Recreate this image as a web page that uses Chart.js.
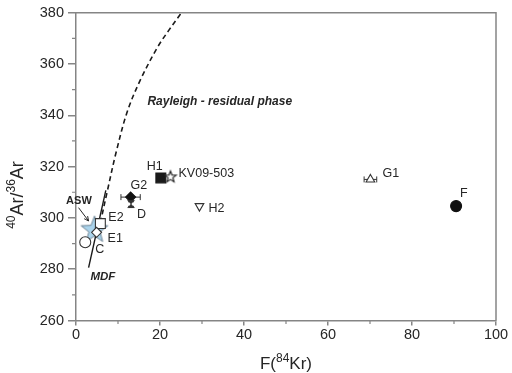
<!DOCTYPE html>
<html>
<head>
<meta charset="utf-8">
<script src="https://cdn.jsdelivr.net/npm/chart.js@4.4.0/dist/chart.umd.min.js"></script>
<style>
  html, body { margin: 0; padding: 0; background: #fff; }
  #wrap { width: 512px; height: 373px; position: relative; }
</style>
</head>
<body>
<div id="wrap"><canvas id="chart"></canvas></div>
<script>
// samples
const sampleNames = ["ASW", "E2", "E1", "C", "G2", "D", "H1", "KV09-503", "H2", "G1", "F"];
const fKr        = [4.4, 5.8, 4.9, 2.2, 13.0, 13.1, 20.2, 22.5, 29.4, 70.1, 90.5];
const arRatio    = [295.8, 297.8, 294.4, 290.5, 308.1, 305.4, 315.6, 316.2, 304.6, 315.0, 304.6];
const fKrErr     = [0, 0, 0, 0, 2.3, 0, 0, 0, 0, 1.5, 0.6];
const arRatioErr = [0, 0, 0, 0, 0, 0.9, 0, 0, 0, 0, 0];

// Rayleigh residual phase curve
const rayleighX = [5.8, 7.45, 9.6, 12.2, 15.3, 19.4, 22.0, 24.8, 25.8];
const rayleighY = [298.1, 310.4, 325.9, 341.4, 353.7, 366.5, 372.9, 379.3, 381.5];

// mass dependent fractionation line
const mdfX = [3.0, 7.1];
const mdfY = [280.6, 310.7];

const xTicks = [0, 20, 40, 60, 80, 100];
const yTicks = [260, 280, 300, 320, 340, 360, 380];

const FONT = "'Liberation Sans', Arial, sans-serif";
const AXIS = "#858585";
const INK = "#262626";

function starImg(r, fill, stroke, lw){
    const c = document.createElement("canvas");
    const s = Math.ceil(2 * r + 4);
    c.width = s; c.height = s;
    const g = c.getContext("2d");
    g.translate(s / 2, s / 2 + r * 0.1);
    g.beginPath();
    for (let i = 0; i < 10; i++) {
        const a = -Math.PI / 2 + i * Math.PI / 5;
        const rr = i % 2 ? r * 0.42 : r;
        g.lineTo(Math.cos(a) * rr, Math.sin(a) * rr);
    }
    g.closePath();
    g.fillStyle = fill; g.fill();
    g.lineWidth = lw; g.strokeStyle = stroke; g.stroke();
    return c;
}

function hourglassImg(){
    const c = document.createElement("canvas");
    c.width = 10; c.height = 10;
    const g = c.getContext("2d");
    g.fillStyle = "#333";
    g.beginPath();
    g.moveTo(1, 1); g.lineTo(9, 1); g.lineTo(5, 5); g.closePath();
    g.moveTo(5, 5); g.lineTo(9, 9); g.lineTo(1, 9); g.closePath();
    g.fill();
    return c;
}

const markerStyle = {
    "ASW":      { style: starImg(14, "#abd4ec", "#62798a", 0.9) },
    "E2":       { style: "rect", r: 7, bg: "#fff", bd: "#333" },
    "E1":       { style: "rectRot", r: 5, bg: "#fff", bd: "#333" },
    "C":        { style: "circle", r: 5.5, bg: "#fff", bd: "#333" },
    "G2":       { style: "rectRot", r: 5, bg: "#111", bd: "#111" },
    "D":        { style: hourglassImg() },
    "H1":       { style: "rect", r: 7, bg: "#1a1a1a", bd: "#1a1a1a" },
    "KV09-503": { style: starImg(6, "#fff", "#222", 1.2) },
    "H2":       { style: "triangle", r: 5, rot: 180, bg: "#fff", bd: "#333" },
    "G1":       { style: "triangle", r: 5, bg: "#fff", bd: "#333" },
    "F":        { style: "circle", r: 5.5, bg: "#111", bd: "#111" }
};

// label offsets from the marker, pixels
const labelOffset = {
    "E2": [8, -6], "E1": [11, 6], "C": [10, 7], "G2": [0, -12], "D": [6, 10],
    "H1": [-14, -11], "KV09-503": [8, -3], "H2": [9, 2], "G1": [12, -6], "F": [4, -13]
};

const aswIdx = sampleNames.indexOf("ASW");
const others = sampleNames.map((n, i) => i).filter(i => i !== aswIdx);

function pts(xs, ys){ return xs.map((x, i) => ({ x: x, y: ys[i] })); }

const aswSet = {
    label: "ASW",
    data: [{ x: fKr[aswIdx], y: arRatio[aswIdx] }],
    pointStyle: markerStyle.ASW.style,
    showLine: false,
    order: 3
};

const sampleSet = {
    label: "samples",
    data: others.map(i => ({ x: fKr[i], y: arRatio[i] })),
    pointStyle: others.map(i => markerStyle[sampleNames[i]].style),
    pointRadius: others.map(i => markerStyle[sampleNames[i]].r || 5),
    pointRotation: others.map(i => markerStyle[sampleNames[i]].rot || 0),
    pointBackgroundColor: others.map(i => markerStyle[sampleNames[i]].bg || "#fff"),
    pointBorderColor: others.map(i => markerStyle[sampleNames[i]].bd || "#333"),
    pointBorderWidth: 1.1,
    showLine: false,
    order: 1
};

const rayleighSet = {
    label: "Rayleigh",
    data: pts(rayleighX, rayleighY),
    showLine: true,
    borderColor: "#1a1a1a",
    borderWidth: 1.6,
    borderDash: [5, 3.5],
    pointRadius: 0,
    tension: 0.35,
    order: 2
};

const mdfSet = {
    label: "MDF",
    data: pts(mdfX, mdfY),
    showLine: true,
    borderColor: "#1a1a1a",
    borderWidth: 1.4,
    pointRadius: 0,
    order: 2
};

function richWidth(ctx, parts, size){
    let w = 0;
    parts.forEach(p => {
        ctx.font = (p[1] ? Math.round(size * 0.68) : size) + "px " + FONT;
        w += ctx.measureText(p[0]).width;
    });
    return w;
}

function drawRich(ctx, parts, x, y, size){
    const w = richWidth(ctx, parts, size);
    let cx = x - w / 2;
    ctx.textAlign = "left";
    ctx.textBaseline = "alphabetic";
    parts.forEach(p => {
        ctx.font = (p[1] ? Math.round(size * 0.68) : size) + "px " + FONT;
        ctx.fillText(p[0], cx, p[1] ? y - size * 0.42 : y);
        cx += ctx.measureText(p[0]).width;
    });
}

const extras = {
    id: "extras",
    beforeDatasetsDraw(chart){
        const ctx = chart.ctx, xs = chart.scales.x, ys = chart.scales.y;
        ctx.save();
        ctx.strokeStyle = "#333";
        ctx.lineWidth = 1;
        sampleNames.forEach((n, i) => {
            const px = xs.getPixelForValue(fKr[i]), py = ys.getPixelForValue(arRatio[i]);
            if (fKrErr[i]) {
                const a = xs.getPixelForValue(fKr[i] - fKrErr[i]);
                const b = xs.getPixelForValue(fKr[i] + fKrErr[i]);
                ctx.beginPath();
                ctx.moveTo(a, py); ctx.lineTo(b, py);
                ctx.moveTo(a, py - 3); ctx.lineTo(a, py + 3);
                ctx.moveTo(b, py - 3); ctx.lineTo(b, py + 3);
                ctx.stroke();
            }
            if (arRatioErr[i]) {
                const a = ys.getPixelForValue(arRatio[i] - arRatioErr[i]);
                const b = ys.getPixelForValue(arRatio[i] + arRatioErr[i]);
                ctx.beginPath();
                ctx.moveTo(px, a); ctx.lineTo(px, b);
                ctx.moveTo(px - 3, a); ctx.lineTo(px + 3, a);
                ctx.moveTo(px - 3, b); ctx.lineTo(px + 3, b);
                ctx.stroke();
            }
        });
        ctx.restore();
    },
    afterDraw(chart){
        const ctx = chart.ctx, xs = chart.scales.x, ys = chart.scales.y;
        const area = chart.chartArea;
        ctx.save();

        // top and right frame
        ctx.strokeStyle = AXIS;
        ctx.lineWidth = 1.5;
        ctx.beginPath();
        ctx.moveTo(area.left, area.top);
        ctx.lineTo(area.right, area.top);
        ctx.lineTo(area.right, area.bottom);
        ctx.stroke();

        // minor ticks
        ctx.lineWidth = 1.2;
        ctx.beginPath();
        for (let v = 10; v < 100; v += 20) {
            const p = xs.getPixelForValue(v);
            ctx.moveTo(p, area.bottom); ctx.lineTo(p, area.bottom + 3.5);
        }
        for (let v = 270; v < 380; v += 20) {
            const p = ys.getPixelForValue(v);
            ctx.moveTo(area.left, p); ctx.lineTo(area.left - 4, p);
        }
        ctx.stroke();

        // axis titles
        ctx.fillStyle = INK;
        drawRich(ctx, [["F(", 0], ["84", 1], ["Kr)", 0]], 286, 369, 17);
        ctx.save();
        ctx.translate(23, 195);
        ctx.rotate(-Math.PI / 2);
        drawRich(ctx, [["40", 1], ["Ar/", 0], ["36", 1], ["Ar", 0]], 0, 0, 18);
        ctx.restore();

        // sample labels
        ctx.font = "12.5px " + FONT;
        ctx.textAlign = "left";
        ctx.textBaseline = "middle";
        sampleNames.forEach((n, i) => {
            const off = labelOffset[n];
            if (!off) return;
            const px = xs.getPixelForValue(fKr[i]), py = ys.getPixelForValue(arRatio[i]);
            ctx.fillText(n, px + off[0], py + off[1]);
        });

        // annotations
        ctx.font = "italic bold 12px " + FONT;
        ctx.fillText("Rayleigh - residual phase", xs.getPixelForValue(17.0), ys.getPixelForValue(345.2));
        ctx.font = "italic bold 11.5px " + FONT;
        ctx.textAlign = "center";
        ctx.fillText("MDF", xs.getPixelForValue(6.4), ys.getPixelForValue(277.2));
        ctx.font = "bold 11px " + FONT;
        ctx.fillText("ASW", xs.getPixelForValue(0.7), ys.getPixelForValue(306.6));

        // ASW arrow
        const ax0 = xs.getPixelForValue(0.6), ay0 = ys.getPixelForValue(304.0);
        const ax1 = xs.getPixelForValue(3.0), ay1 = ys.getPixelForValue(298.8);
        const ang = Math.atan2(ay1 - ay0, ax1 - ax0);
        ctx.strokeStyle = INK;
        ctx.lineWidth = 1;
        ctx.beginPath();
        ctx.moveTo(ax0, ay0); ctx.lineTo(ax1, ay1);
        ctx.moveTo(ax1 - 5 * Math.cos(ang - 0.45), ay1 - 5 * Math.sin(ang - 0.45));
        ctx.lineTo(ax1, ay1);
        ctx.lineTo(ax1 - 5 * Math.cos(ang + 0.45), ay1 - 5 * Math.sin(ang + 0.45));
        ctx.stroke();

        ctx.restore();
    }
};

new Chart(document.getElementById("chart"), {
    type: "scatter",
    data: { datasets: [sampleSet, rayleighSet, mdfSet, aswSet] },
    options: {
        responsive: true,
        maintainAspectRatio: false,
        animation: false,
        layout: { padding: { left: 0, right: 16, top: 10, bottom: 0 } },
        plugins: { legend: { display: false }, tooltip: { enabled: false } },
        scales: {
            x: {
                type: "linear",
                min: xTicks[0],
                max: xTicks[xTicks.length - 1],
                afterBuildTicks: s => { s.ticks = xTicks.map(v => ({ value: v })); },
                afterFit: s => { s.height = 52.5; },
                ticks: { color: INK, font: { family: FONT, size: 14.5 }, padding: 1, maxRotation: 0 },
                grid: { drawOnChartArea: false, drawTicks: true, tickLength: 5, color: AXIS, lineWidth: 1.5 },
                border: { color: AXIS, width: 1.5 }
            },
            y: {
                type: "linear",
                min: yTicks[0],
                max: yTicks[yTicks.length - 1],
                afterBuildTicks: s => { s.ticks = yTicks.map(v => ({ value: v })); },
                afterFit: s => { s.width = 76; },
                ticks: { color: INK, font: { family: FONT, size: 14.5 }, padding: 4 },
                grid: { drawOnChartArea: false, drawTicks: true, tickLength: 8, color: AXIS, lineWidth: 1.5 },
                border: { color: AXIS, width: 1.5 }
            }
        }
    },
    plugins: [extras]
});
</script>
</body>
</html>
